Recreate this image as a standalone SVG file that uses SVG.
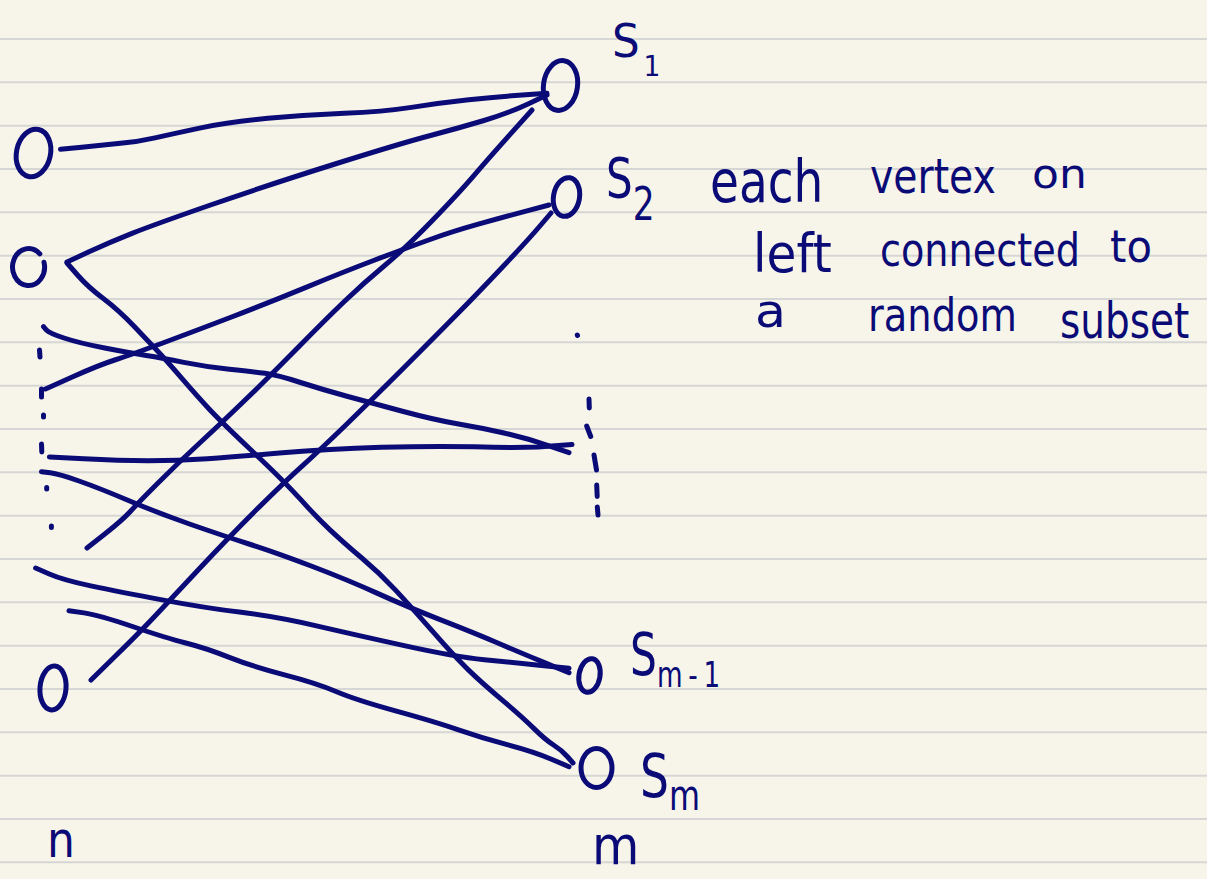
<svg xmlns="http://www.w3.org/2000/svg" width="1207" height="879" viewBox="0 0 1207 879">
<defs>
<style>
.rule{stroke:#d6d6d4;stroke-width:2;}
.ink{fill:none;stroke:#0b0b78;stroke-width:5;stroke-linecap:round;stroke-linejoin:round;}
.txt{fill:#0b0b78;font-family:"DejaVu Sans","Liberation Sans",sans-serif;}
</style>
</defs>
<rect x="0" y="0" width="1207" height="879" fill="#f7f5e9"/>
<g id="ruling">
<line class="rule" x1="0" y1="39" x2="1207" y2="39"/>
<line class="rule" x1="0" y1="82.3" x2="1207" y2="82.3"/>
<line class="rule" x1="0" y1="125.7" x2="1207" y2="125.7"/>
<line class="rule" x1="0" y1="169" x2="1207" y2="169"/>
<line class="rule" x1="0" y1="212.3" x2="1207" y2="212.3"/>
<line class="rule" x1="0" y1="255.7" x2="1207" y2="255.7"/>
<line class="rule" x1="0" y1="299" x2="1207" y2="299"/>
<line class="rule" x1="0" y1="342.3" x2="1207" y2="342.3"/>
<line class="rule" x1="0" y1="385.7" x2="1207" y2="385.7"/>
<line class="rule" x1="0" y1="429" x2="1207" y2="429"/>
<line class="rule" x1="0" y1="472.3" x2="1207" y2="472.3"/>
<line class="rule" x1="0" y1="515.7" x2="1207" y2="515.7"/>
<line class="rule" x1="0" y1="559" x2="1207" y2="559"/>
<line class="rule" x1="0" y1="602.3" x2="1207" y2="602.3"/>
<line class="rule" x1="0" y1="645.7" x2="1207" y2="645.7"/>
<line class="rule" x1="0" y1="689" x2="1207" y2="689"/>
<line class="rule" x1="0" y1="732.3" x2="1207" y2="732.3"/>
<line class="rule" x1="0" y1="775.7" x2="1207" y2="775.7"/>
<line class="rule" x1="0" y1="819" x2="1207" y2="819"/>
<line class="rule" x1="0" y1="862.3" x2="1207" y2="862.3"/>
</g>
<g id="connectors">
<path class="ink" d="M60.5,149.3 L81.75,147.15 Q103,145 120.5,143.35 Q138,141.7 155,137.85 Q172,134 200.8,127.85 Q229.6,121.7 267.8,118.35 Q306,115 344.35,113.35 Q382.7,111.7 411.35,107.35 Q440,103 468.75,99.85 Q497.5,96.7 522.25,95 L547,93.3"/>
<path class="ink" d="M67,262 L89,251.85 Q111,241.7 132,233.35 Q153,225 210.5,205 Q268,185 335,164 Q402,143 430.5,135.5 Q459,128 484,120.5 Q509,113 528,104 L547,95"/>
<path class="ink" d="M67,263 L77.5,275 Q88,287 103.3,298.5 Q118.6,310 134.3,326.5 Q150,343 158,351.5 Q166,360 181.85,378.35 Q197.7,396.7 209.35,409.2 Q221,421.7 252.85,451.7 Q284.7,481.7 300.35,499.2 Q316,516.7 330,529.85 Q344,543 361.8,558 Q379.6,573 395.3,589.85 Q411,606.7 432.85,631.7 Q454.7,656.7 468.35,669.85 Q482,683 502,699.85 Q522,716.7 533.8,728.35 Q545.6,740 553.55,745 Q561.5,750 567.25,756.5 L573,763"/>
<path class="ink" d="M532,110 L511,133.35 Q490,156.7 474.5,174.85 Q459,193 432.35,220.5 Q405.7,248 384.65,265.5 Q363.6,283 344.3,301.5 Q325,320 299,346.5 Q273,373 247.2,398 Q221.4,423 199.7,443 Q178,463 158,483 Q138,503 130.3,511.5 Q122.6,520 104.8,534 L87,548"/>
<path class="ink" d="M45.5,389 L72.25,377 Q99,365 114.75,360 Q130.5,355 164.1,342.5 Q197.7,330 232.85,316.5 Q268,303 306,287.35 Q344,271.7 374.85,260 Q405.7,248.3 428.65,240 Q451.6,231.7 478.3,224.2 Q505,216.7 527,210.85 L549,205"/>
<path class="ink" d="M551,213 L539.5,226.5 Q528,240 503,266.5 Q478,293 456.5,314.85 Q435,336.7 403.35,368.35 Q371.7,400 345.85,425 Q320,450 302.35,465.85 Q284.7,481.7 256.85,509.35 Q229,537 199.5,568.5 Q170,600 156,615 Q142,630 116.5,655 L91,680"/>
<path class="ink" d="M43.5,326.7 L46.25,329.85 Q49,333 64,338 Q79,343 104.75,348 Q130.5,353 146.25,355.5 Q162,358 183.8,362.35 Q205.6,366.7 229.3,369.2 Q253,371.7 265,373.35 Q277,375 300.5,382.5 Q324,390 347.85,396.5 Q371.7,403 403.35,411.5 Q435,420 458.5,424 Q482,428 504,433 Q526,438 547.5,445.35 L569,452.7"/>
<path class="ink" d="M49.4,457 L84,458.85 Q118.6,460.7 148.3,460.7 Q178,460.7 207.5,458.7 Q237,456.7 282.5,452.85 Q328,449 381.5,447.35 Q435,445.7 474.5,446.85 Q514,448 538,447 L572,444.5"/>
<path class="ink" d="M41.5,471.7 L50.25,472.85 Q59,474 79,481 Q99,488 128.5,500.5 Q158,513 189.5,524 Q221,535 249,544 Q277,553 312.5,566.5 Q348,580 377.5,593.35 Q407,606.7 440.75,619.85 Q474.5,633 494.25,641.5 Q514,650 541.5,661.35 L569,672.7"/>
<path class="ink" d="M35.6,568 L49.3,574 Q63,580 90.8,585.85 Q118.6,591.7 162.1,599.85 Q205.6,608 241.3,612.35 Q277,616.7 316.5,625.85 Q356,635 405.35,645.85 Q454.7,656.7 484.35,659.7 Q514,662.7 541.5,665.5 L569,668.3"/>
<path class="ink" d="M69,610.7 L84,612.85 Q99,615 132.5,626.5 Q166,638 185.8,643 Q205.6,648 229.3,657.35 Q253,666.7 284.5,674.85 Q316,683 336,691.5 Q356,700 395.5,710.85 Q435,721.7 458.5,729.85 Q482,738 508,744.85 Q534,751.7 551.5,759.2 L569,766.7"/>
</g>
<g id="dots-left">
<path class="ink" d="M39.5,350 L40,357 M41.5,389 L41.5,397 M43.5,415 L43.5,417 M41.5,444 L41.8,452 M46.7,487.5 L46.7,489 M51.4,526 L51.4,527.5"/>
</g>
<g id="dots-right">
<path class="ink" d="M577.3,335 L577.5,335.5 M589,399 L589.3,408 M586.7,426 L590.7,436.5 M594,455 L596.5,470 M596.7,485 L597.2,496.5 M597.3,507 L598,515"/>
</g>
<g id="node-L1"><ellipse class="ink" cx="33.5" cy="153" rx="17" ry="24" transform="rotate(12 33.5 153)"/></g>
<g id="node-L2"><path class="ink" d="M39.8,253.9 A16,18.5 0 1 0 44,262.2"/></g>
<g id="node-L3"><ellipse class="ink" cx="53" cy="688" rx="13" ry="22" transform="rotate(5 53 688)"/></g>
<g id="label-n"><text class="txt" transform="translate(47 857) scale(0.88 1)" font-size="50">n</text></g>
<g id="node-S1">
<ellipse class="ink" cx="560.5" cy="85.5" rx="17" ry="25" transform="rotate(8 560.5 85.5)"/>
<text class="txt" transform="translate(612 57) scale(0.95 1)" font-size="46">S<tspan dx="4" dy="19" font-size="28">1</tspan></text>
</g>
<g id="node-S2">
<ellipse class="ink" cx="566.5" cy="197" rx="13" ry="19.5" transform="rotate(10 566.5 197)"/>
<text class="txt" transform="translate(606 197) scale(0.75 1)" font-size="56">S<tspan dy="23" font-size="46">2</tspan></text>
</g>
<g id="node-Sm-1">
<ellipse class="ink" cx="589.5" cy="675.5" rx="10.5" ry="17" transform="rotate(10 589.5 675.5)"/>
<text class="txt" transform="translate(630 675) scale(0.73 1)" font-size="58">S<tspan dy="12" font-size="36" letter-spacing="8">m-1</tspan></text>
</g>
<g id="node-Sm">
<ellipse class="ink" cx="596.5" cy="768" rx="15.5" ry="19.5"/>
<text class="txt" transform="translate(640 797) scale(0.76 1)" font-size="60">S<tspan dy="13" font-size="42">m</tspan></text>
</g>
<g id="label-m"><text class="txt" transform="translate(592 864) scale(0.9 1)" font-size="54">m</text></g>
<g id="note">
<text class="txt" transform="translate(710 202) scale(0.81 1)" font-size="58">each</text>
<text class="txt" transform="translate(870 193) scale(0.82 1)" font-size="48">vertex</text>
<text class="txt" transform="translate(1032 188) scale(1.1 1)" font-size="40">on</text>
<text class="txt" transform="translate(753 272) scale(0.9 1)" font-size="54">left</text>
<text class="txt" transform="translate(880 266) scale(0.83 1)" font-size="46">connected</text>
<text class="txt" transform="translate(1110 262) scale(0.95 1)" font-size="44">to</text>
<text class="txt" transform="translate(755 327) scale(1.1 1)" font-size="46">a</text>
<text class="txt" transform="translate(868 331) scale(0.835 1)" font-size="46">random</text>
<text class="txt" transform="translate(1060 338) scale(0.78 1)" font-size="50">subset</text>
</g>
</svg>
